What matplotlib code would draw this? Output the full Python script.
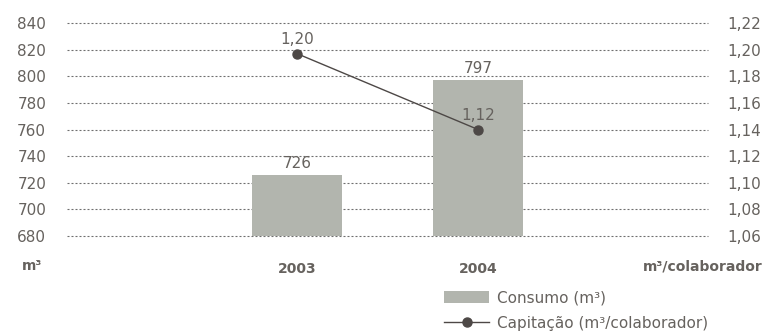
import matplotlib.pyplot as plt

years = ['2003', '2004']
consumo = [726, 797]
capitacao = [1.197, 1.14]          # plotted position as seen in the chart
capitacao_labels = ['1,20', '1,12']  # printed labels
left_ticks = [680, 700, 720, 740, 760, 780, 800, 820, 840]
right_ticks = [1.06, 1.08, 1.10, 1.12, 1.14, 1.16, 1.18, 1.20, 1.22]

bar_color = '#b2b5ae'
line_color = '#4d4846'
text_color = '#66625e'
fs = 11

plt.rcParams['font.family'] = 'DejaVu Sans'

fig = plt.figure(figsize=(7.68, 3.32), dpi=100)
ax = fig.add_axes([67 / 768, 1 - 236 / 332, (708 - 67) / 768, (236 - 23) / 332])
x = list(range(len(years)))

bars = ax.bar(x, consumo, width=0.5, color=bar_color, zorder=2)
for xi, v in zip(x, consumo):
    ax.annotate(str(v), (xi, v), xytext=(0, 3), textcoords='offset points',
                ha='center', va='bottom', fontsize=fs, color=text_color)

ax.set_ylim(680, 840)
ax.set_yticks(left_ticks)
ax.set_yticklabels([str(t) for t in left_ticks])
ax.set_xlim(-1.27, 2.27)
ax.set_xticks(x)
ax.set_xticklabels(years, fontweight='bold')
ax.tick_params(axis='y', length=0, pad=15, labelsize=fs, labelcolor=text_color)
ax.tick_params(axis='x', length=0, pad=19, labelsize=10, labelcolor=text_color)
ax.grid(axis='y', linestyle=(0, (1.8, 1.8)), color='#6f6f6f', linewidth=0.8, zorder=0)
for gl in ax.get_ygridlines():
    gl.set_clip_on(False)
for s in ax.spines.values():
    s.set_visible(False)

ax2 = ax.twinx()
line, = ax2.plot(x, capitacao, color=line_color, marker='o', markersize=6.5, linewidth=1,
                 zorder=3)
for xi, v, lab in zip(x, capitacao, capitacao_labels):
    ax2.annotate(lab, (xi, v), xytext=(0, 5), textcoords='offset points',
                 ha='center', va='bottom', fontsize=fs, color=text_color)
ax2.set_ylim(1.06, 1.22)
ax2.set_yticks(right_ticks)
ax2.set_yticklabels([f'{t:.2f}'.replace('.', ',') for t in right_ticks])
ax2.tick_params(axis='y', length=0, pad=14, labelsize=fs, labelcolor=text_color)
for s in ax2.spines.values():
    s.set_visible(False)

fig.text(32 / 768, 1 - 266 / 332, 'm³', ha='center', va='center', fontsize=10,
         fontweight='bold', color=text_color)
fig.text(763 / 768, 1 - 266 / 332, 'm³/colaborador', ha='right', va='center',
         fontsize=10, fontweight='bold', color=text_color)

fig.legend([bars, line], ['Consumo (m³)', 'Capitação (m³/colaborador)'],
           loc='upper left', bbox_to_anchor=(436 / 768, 1 - 283 / 332), frameon=False,
           fontsize=fs, labelcolor=text_color, handlelength=3.0, handleheight=0.8,
           labelspacing=0.65, handletextpad=0.5, borderpad=0)

fig.savefig('out.png', dpi=100)
